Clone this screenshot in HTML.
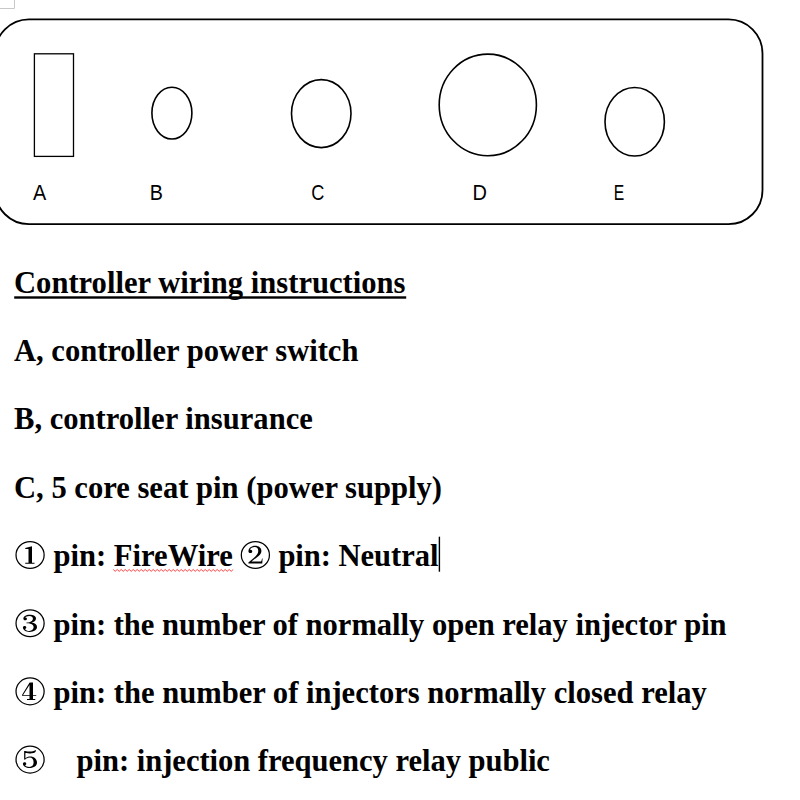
<!DOCTYPE html>
<html>
<head>
<meta charset="utf-8">
<title>Controller wiring instructions</title>
<style>
html,body{margin:0;padding:0;background:#fff;width:800px;height:800px;overflow:hidden}
svg{display:block;position:absolute;left:0;top:0}
.s{font-family:"Liberation Serif",serif;font-weight:bold;font-size:30.6px;fill:#000}
.l{font-family:"Liberation Sans",sans-serif;font-size:22px;fill:#000}
.sh{fill:none;stroke:#000;stroke-width:1.6}
</style>
</head>
<body>
<svg width="800" height="800" viewBox="0 0 800 800">
<!-- ruler corner artifact -->
<path d="M0 8.5H14.5V0" fill="none" stroke="#c8c8c8" stroke-width="1"/>
<!-- panel outline -->
<rect class="sh" x="-5" y="19.4" width="767.5" height="204.8" rx="34" ry="34" style="stroke-width:1.8"/>
<!-- A switch, B fuse, C/D/E sockets -->
<rect class="sh" x="34.4" y="53.8" width="39.1" height="102.6" style="stroke-width:1.3"/>
<ellipse class="sh" cx="171.9" cy="113.1" rx="20" ry="25.9"/>
<ellipse class="sh" cx="321.25" cy="113.6" rx="29.75" ry="34"/>
<ellipse class="sh" cx="487.8" cy="104.9" rx="48.6" ry="50.8"/>
<ellipse class="sh" cx="634.7" cy="121.75" rx="29.7" ry="34.25"/>
<text class="l" transform="translate(33.06,199.95) scale(0.901,1)">A</text>
<text class="l" transform="translate(149.63,199.95) scale(0.896,1)">B</text>
<text class="l" transform="translate(311.33,199.95) scale(0.826,1)">C</text>
<text class="l" transform="translate(472.61,199.95) scale(0.910,1)">D</text>
<text class="l" transform="translate(613.71,199.95) scale(0.713,1)">E</text>
<!-- instructions -->
<text class="s" x="14.0" y="292.6">Controller wiring instructions</text>
<rect x="14.2" y="296.3" width="392" height="2.4" fill="#000"/>
<text class="s" x="14.0" y="361.0" style="letter-spacing:-0.023px">A, controller power switch</text>
<text class="s" x="14.0" y="429.2">B, controller insurance</text>
<text class="s" x="14.0" y="497.7">C, 5 core seat pin (power supply)</text>
<g transform="translate(10,535) scale(0.05)"><ellipse cx="401.5" cy="399" rx="281" ry="269" fill="none" stroke="#000" stroke-width="25"/><path d="M440,225 L440,560 L370,560 L370,278 L305,282 L305,262 L400,234 Z M305,556 H490 V576 H305 Z" fill="#000"/></g>
<text class="s" x="53.5" y="565.6">pin: FireWire</text>
<polyline points="113.2,569.5 115.2,571.3 117.2,569.5 119.2,571.3 121.2,569.5 123.2,571.3 125.2,569.5 127.2,571.3 129.2,569.5 131.2,571.3 133.2,569.5 135.2,571.3 137.2,569.5 139.2,571.3 141.2,569.5 143.2,571.3 145.2,569.5 147.2,571.3 149.2,569.5 151.2,571.3 153.2,569.5 155.2,571.3 157.2,569.5 159.2,571.3 161.2,569.5 163.2,571.3 165.2,569.5 167.2,571.3 169.2,569.5 171.2,571.3 173.2,569.5 175.2,571.3 177.2,569.5 179.2,571.3 181.2,569.5 183.2,571.3 185.2,569.5 187.2,571.3 189.2,569.5 191.2,571.3 193.2,569.5 195.2,571.3 197.2,569.5 199.2,571.3 201.2,569.5 203.2,571.3 205.2,569.5 207.2,571.3 209.2,569.5 211.2,571.3 213.2,569.5 215.2,571.3 217.2,569.5 219.2,571.3 221.2,569.5 223.2,571.3 225.2,569.5 227.2,571.3 229.2,569.5 231.2,571.3 233.2,569.5" fill="none" stroke="#ff3030" stroke-width="1" opacity="0.9"/>
<g transform="translate(235,535) scale(0.05)"><ellipse cx="407.5" cy="399" rx="281" ry="269" fill="none" stroke="#000" stroke-width="25"/><path d="M270,335 C262,265 330,215 400,215 C478,215 528,258 528,318 C528,385 470,425 330,528 L515,528 C530,528 535,500 540,470 L552,470 L545,570 L268,570 L268,548 C400,440 465,390 465,318 C465,265 440,240 395,240 C350,240 310,262 300,295 C330,290 345,310 345,328 C345,350 328,362 308,362 C288,362 272,350 270,335 Z" fill="#000"/></g>
<text class="s" x="278.4" y="565.6" style="letter-spacing:-0.05px">pin: Neutral</text>
<rect x="438.7" y="536.7" width="1.4" height="35" fill="#000"/>
<g transform="translate(10,603) scale(0.05)"><ellipse cx="401.5" cy="404" rx="281" ry="269" fill="none" stroke="#000" stroke-width="25"/><path d="M268,315 C262,270 320,235 390,235 C470,235 520,265 520,308 C520,350 480,380 430,392 C500,400 540,435 540,482 C540,540 480,580 390,580 C320,580 262,545 258,492 C258,472 272,460 292,460 C312,460 326,474 326,490 C326,505 315,515 300,518 C315,545 350,558 385,558 C440,558 472,530 472,482 C472,435 430,408 330,405 L330,388 C420,385 458,355 458,308 C458,275 430,258 390,258 C345,258 310,275 300,290 C325,285 338,300 338,315 C338,335 322,345 305,345 C285,345 270,335 268,315 Z" fill="#000"/></g>
<text class="s" x="53.5" y="634.6" style="letter-spacing:-0.033px">pin: the number of normally open relay injector pin</text>
<g transform="translate(10,671) scale(0.05)"><ellipse cx="401.5" cy="407.5" rx="281" ry="269" fill="none" stroke="#000" stroke-width="25"/><path d="M390,232 H460 V565 H390 Z M392,232 L412,245 L262,482 L240,482 Z M240,478 H525 V496 H240 Z M340,562 H505 V580 H340 Z" fill="#000"/></g>
<text class="s" x="53.5" y="703.2" style="letter-spacing:-0.014px">pin: the number of injectors normally closed relay</text>
<g transform="translate(10,739) scale(0.05)"><ellipse cx="401.5" cy="412.5" rx="281" ry="269" fill="none" stroke="#000" stroke-width="25"/><path d="M283,238 L302,238 C380,258 470,250 505,225 L522,225 C517,265 490,285 440,287 C400,289 340,285 308,278 L308,385 C335,360 370,348 405,348 C485,348 540,400 540,470 C540,535 480,580 390,580 C320,580 262,548 258,495 C258,475 272,463 292,463 C312,463 326,477 326,493 C326,508 315,518 300,520 C315,548 350,558 385,558 C440,558 472,525 472,470 C472,410 440,372 395,372 C355,372 320,392 300,415 L283,410 Z" fill="#000"/></g>
<text class="s" x="76.6" y="770.5" style="letter-spacing:-0.04px">pin: injection frequency relay public</text>
</svg>
</body>
</html>
